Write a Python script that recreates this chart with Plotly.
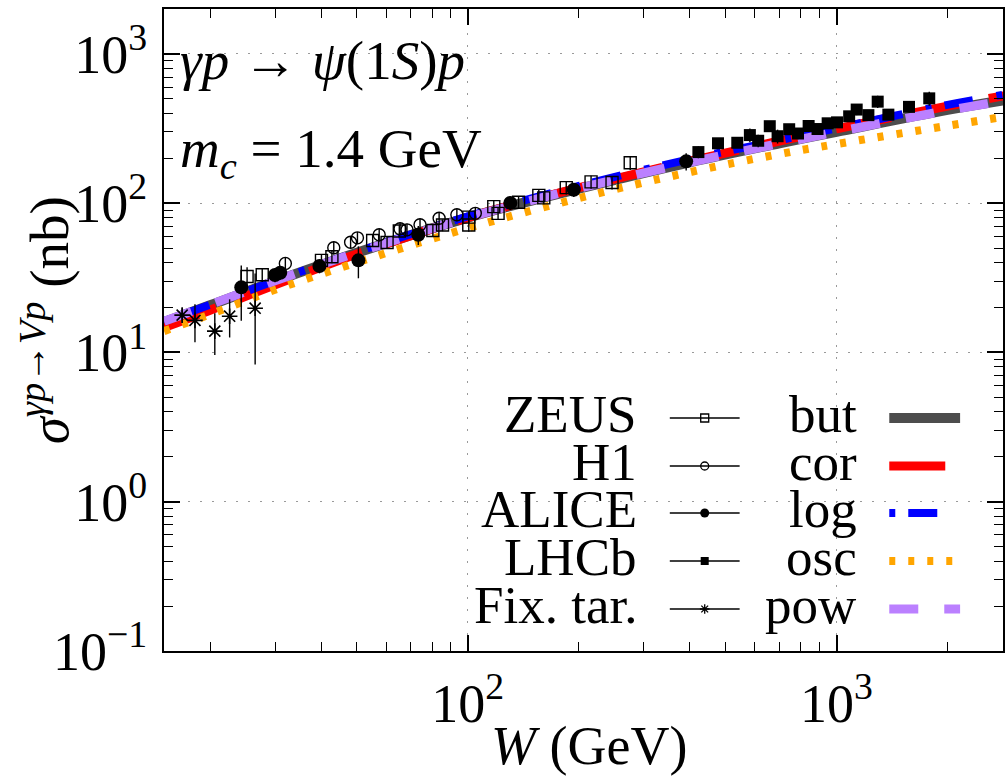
import math
import plotly.graph_objects as go

# ---------------- data ----------------
W_model = [15, 20, 30, 50, 100, 200, 400, 700, 1000, 2000, 3000]
sig_but = [16.0, 20.7, 30.0, 46.5, 80.0, 125.0, 188.0, 252.0, 301.0, 422.0, 500.0]
sig_cor = [14.7, 19.2, 28.4, 45.7, 80.0, 126.9, 191.5, 261.0, 315.0, 447.0, 536.0]
sig_log = [16.2, 20.9, 30.2, 47.1, 81.6, 130.6, 197.1, 263.6, 318.0, 456.0, 546.0]
sig_osc = [13.9, 18.0, 26.3, 40.1, 68.0, 108.0, 161.4, 213.4, 249.0, 330.0, 387.0]
sig_pow = [16.2, 20.9, 30.2, 46.6, 80.0, 125.6, 187.7, 251.0, 300.0, 418.0, 496.0]

zeus_W = [25.2, 27.7, 40.1, 42.8, 55.2, 60.4, 65.2, 80.4, 85.4, 100.6, 100.6, 117.6,
          120.8, 137.3, 155.8, 160.7, 184.9, 215.9, 246.1, 275.7]
zeus_sig = [32.3, 33.2, 41.4, 43.8, 56.3, 54.6, 65.1, 65.6, 71.4, 71.4, 80.7, 94.9,
            85.5, 101.4, 112.9, 108.5, 127.2, 139.0, 137.7, 186.7]
zeus_err = [5.0, 3.5, 4.0, 4.2, 5.0, 5.0, 6.0, 6.0, 6.5, 7.0, 7.5, 9.0,
            8.0, 10.0, 11.0, 10.0, 13.0, 14.0, 14.0, 20.0]

h1_W = [32.0, 43.3, 48.1, 50.2, 57.5, 65.5, 68.4, 74.2, 83.6, 93.4, 104.8]
h1_sig = [39.5, 50.3, 54.8, 58.6, 61.4, 67.4, 66.3, 71.7, 79.3, 83.7, 85.5]
h1_err = [4.0, 5.0, 5.0, 5.5, 6.0, 6.5, 6.5, 7.0, 7.5, 8.0, 8.5]

alice_W = [24.3, 30.0, 31.0, 39.6, 50.5, 73.4, 130.4, 193.8, 391.0]
alice_sig = [27.3, 33.0, 34.2, 37.9, 41.4, 61.4, 100.5, 123.0, 190.7]
alice_err = [11.0, 3.5, 3.5, 4.0, 10.0, 9.0, 10.0, 13.0, 25.0]

lhcb_W = [422, 477, 538, 582, 613, 659, 692, 744, 786, 840, 888, 946, 1003, 1082,
          1134, 1220, 1293, 1382, 1572, 1784]
lhcb_sig = [220, 252, 254, 286, 262, 328, 281, 313, 293, 329, 314, 343, 348, 382,
            424, 389, 479, 392, 442, 504]
lhcb_err = [20, 18, 17, 30, 25, 22, 30, 20, 25, 20, 22, 24, 25, 28, 35, 27, 45, 30, 35, 55]

fix_W = [16.8, 18.2, 20.6, 22.6, 26.5]
fix_sig = [17.8, 16.4, 13.9, 17.5, 19.8]
fix_err_plus = [2.0, 4.6, 4.4, 5.2, 14.0]
fix_err_minus = [2.0, 4.7, 4.3, 4.9, 11.5]

x_tickvals = [100, 1000]
x_ticktext = ["10<sup>2</sup>", "10<sup>3</sup>"]
y_tickvals = [0.1, 1, 10, 100, 1000]
y_ticktext = ["10<sup>−1</sup>", "10<sup>0</sup>", "10<sup>1</sup>", "10<sup>2</sup>", "10<sup>3</sup>"]

data_names = ["ZEUS", "H1", "ALICE", "LHCb", "Fix. tar."]
model_names = ["but", "cor", "log", "osc", "pow"]

# ---------------- styles ----------------
FONT = "Liberation Serif"
model_styles = {
    "but": dict(color="#4d4d4d", width=10, dash="solid"),
    "cor": dict(color="#ff0000", width=9, dash="56px,22px"),
    "log": dict(color="#0000ff", width=8, dash="6px,13px,29px,24px"),
    "osc": dict(color="#ffa500", width=8, dash="6px,13px"),
    "pow": dict(color="#bb80ff", width=9, dash="29px,26px"),
}
data_markers = {
    "ZEUS": dict(symbol="square-open", size=12, line=dict(width=1.4, color="black"), color="black"),
    "H1": dict(symbol="circle-open", size=12, line=dict(width=1.4, color="black"), color="black"),
    "ALICE": dict(symbol="circle", size=14, color="black"),
    "LHCb": dict(symbol="square", size=12, color="black"),
    "Fix. tar.": dict(symbol="asterisk-open", size=13, line=dict(width=1.6, color="black"), color="black"),
}
legend_markers = {
    "ZEUS": dict(symbol="square-open", size=8, line=dict(width=1.3, color="black"), color="black"),
    "H1": dict(symbol="circle-open", size=8, line=dict(width=1.3, color="black"), color="black"),
    "ALICE": dict(symbol="circle", size=9, color="black"),
    "LHCb": dict(symbol="square", size=8, color="black"),
    "Fix. tar.": dict(symbol="asterisk-open", size=8, line=dict(width=1.3, color="black"), color="black"),
}

fig = go.Figure()

# model curves
model_data = {"but": sig_but, "cor": sig_cor, "log": sig_log, "osc": sig_osc, "pow": sig_pow}
for name in model_names:
    fig.add_trace(go.Scatter(x=W_model, y=model_data[name], mode="lines",
                             line=dict(shape="spline", smoothing=1.0, **model_styles[name]),
                             showlegend=False, hoverinfo="skip"))

# data sets
sets = [
    ("ZEUS", zeus_W, zeus_sig, dict(type="data", array=zeus_err, symmetric=True)),
    ("H1", h1_W, h1_sig, dict(type="data", array=h1_err, symmetric=True)),
    ("ALICE", alice_W, alice_sig, dict(type="data", array=alice_err, symmetric=True)),
    ("LHCb", lhcb_W, lhcb_sig, dict(type="data", array=lhcb_err, symmetric=True)),
    ("Fix. tar.", fix_W, fix_sig, dict(type="data", array=fix_err_plus,
                                       arrayminus=fix_err_minus, symmetric=False)),
]
for name, xs, ys, err in sets:
    err.update(color="black", thickness=1.4, width=0)
    fig.add_trace(go.Scatter(x=xs, y=ys, mode="markers", marker=data_markers[name],
                             error_y=err, showlegend=False, name=name))

# ---------------- hand-made legend on a pixel overlay axis ----------------
L, R, T, B = 164, 1005, 9, 651
row_y = [418, 466, 513, 561, 609]
TXT = 53
annots = []
for i, name in enumerate(data_names):
    y = row_y[i]
    fig.add_trace(go.Scatter(x=[671, 741], y=[y, y], mode="lines", xaxis="x2", yaxis="y2",
                             line=dict(color="black", width=1.3), showlegend=False, hoverinfo="skip"))
    fig.add_trace(go.Scatter(x=[706], y=[y], mode="markers", xaxis="x2", yaxis="y2",
                             marker=legend_markers[name], showlegend=False, hoverinfo="skip"))
    annots.append(dict(x=640, y=y - 4, xref="x2", yref="y2", text=name, showarrow=False,
                       xanchor="right", yanchor="middle", font=dict(family=FONT, size=TXT, color="black")))
for i, name in enumerate(model_names):
    y = row_y[i]
    fig.add_trace(go.Scatter(x=[891, 962], y=[y, y], mode="lines", xaxis="x2", yaxis="y2",
                             line=model_styles[name], showlegend=False, hoverinfo="skip"))
    annots.append(dict(x=861, y=y - 4, xref="x2", yref="y2", text=name, showarrow=False,
                       xanchor="right", yanchor="middle", font=dict(family=FONT, size=TXT, color="black")))

# in-plot labels
annots.append(dict(x=178, y=60, xref="x2", yref="y2", showarrow=False, xanchor="left", yanchor="middle",
                   text="<i>γp</i> → <i>ψ</i>(1<i>S</i>)<i>p</i>", font=dict(family=FONT, size=55, color="black")))
annots.append(dict(x=178, y=152, xref="x2", yref="y2", showarrow=False, xanchor="left", yanchor="middle",
                   text="<i>m<sub>c</sub></i> = 1.4 GeV", font=dict(family=FONT, size=55, color="black")))
# axis titles
annots.append(dict(x=(590 - L) / (R - L), y=(B - 746) / (B - T), xref="paper", yref="paper",
                   showarrow=False, xanchor="center", yanchor="middle",
                   text="<i>W</i> (GeV)", font=dict(family=FONT, size=54, color="black")))
annots.append(dict(x=(45 - L) / (R - L), y=(B - 320) / (B - T), xref="paper", yref="paper",
                   showarrow=False, xanchor="center", yanchor="middle", textangle=-90,
                   text="<i>σ</i><sup><i>γp</i>→<i>Vp</i></sup> (nb)",
                   font=dict(family=FONT, size=55, color="black")))

x_minor = [v * 10 ** k for k in (1, 2) for v in range(2, 10)] + [2000, 3000]
y_minor = [v * 10 ** k for k in (-1, 0, 1, 2) for v in range(2, 10)]

axis_common = dict(type="log", showline=True, linecolor="black", linewidth=2, mirror="ticks",
                   ticks="inside", ticklen=16, tickwidth=1.5, tickcolor="black",
                   showgrid=True, gridcolor="#9a9a9a", gridwidth=1, griddash="2px,10px",
                   zeroline=False, tickfont=dict(family=FONT, size=54, color="black"))

fig.update_layout(
    width=1005, height=778,
    margin=dict(l=L, r=1005 - R, t=T, b=778 - B, pad=0),
    paper_bgcolor="white", plot_bgcolor="white",
    xaxis=dict(range=[math.log10(15), 3.4514], tickmode="array", tickvals=x_tickvals,
               ticktext=x_ticktext, ticklabelstandoff=4,
               minor=dict(tickmode="array", tickvals=x_minor, ticks="inside", ticklen=9,
                          tickwidth=1.2, tickcolor="black", showgrid=False),
               **axis_common),
    yaxis=dict(range=[-1, math.log10(2000)], tickmode="array", tickvals=y_tickvals,
               ticktext=y_ticktext, ticklabelstandoff=4,
               minor=dict(tickmode="array", tickvals=y_minor, ticks="inside", ticklen=9,
                          tickwidth=1.2, tickcolor="black", showgrid=False),
               **axis_common),
    xaxis2=dict(overlaying="x", range=[L, R], visible=False, anchor="y2"),
    yaxis2=dict(overlaying="y", range=[B, T], visible=False, anchor="x2"),
    annotations=annots,
    showlegend=False,
)

fig.write_html("out.html")
